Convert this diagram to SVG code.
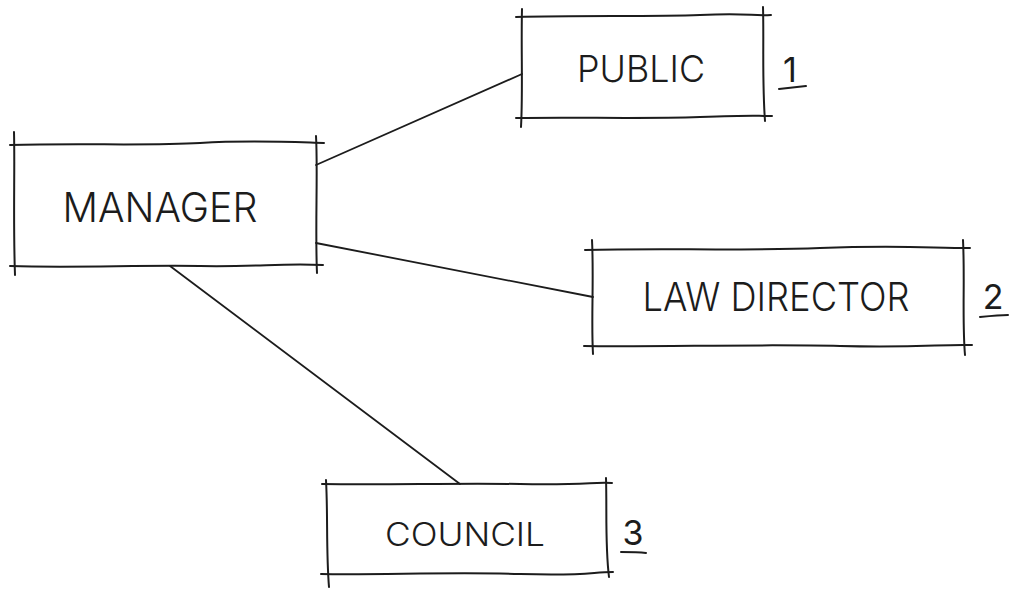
<svg xmlns="http://www.w3.org/2000/svg" width="1013" height="593" viewBox="0 0 1013 593">
  <style>
    .edge { fill: none; stroke: #1c1c1c; stroke-width: 2; stroke-linecap: round; stroke-linejoin: round; }
    .link { fill: none; stroke: #1c1c1c; stroke-width: 1.8; stroke-linecap: round; }
    .label { font-family: Inter, "Liberation Sans", sans-serif; font-weight: 300; fill: #1c1c1c; text-anchor: middle; }
    .num { font-family: Inter, "Liberation Sans", sans-serif; font-weight: 400; fill: #1c1c1c; text-anchor: middle; }
  </style>
  <rect width="1013" height="593" fill="#ffffff"/>

  <!-- connectors -->
  <g id="connectors">
    <path class="link" d="M316,165 L522,74"/>
    <path class="link" d="M316,243 L593,297"/>
    <path class="link" d="M170,266 L460,484"/>
  </g>

  <!-- manager box -->
  <g id="manager">
    <path class="edge" d="M10,145 C80,143 150,146 200,143 S290,142 324,143"/>
    <path class="edge" d="M10,266 C70,268 140,265 200,266 S280,263 323,265"/>
    <path class="edge" d="M14,132 C15,170 13,220 15,275"/>
    <path class="edge" d="M316,136 C318,170 315,230 317,273"/>
    <text class="label" x="160" y="222" font-size="41" textLength="195" lengthAdjust="spacingAndGlyphs">MANAGER</text>
  </g>

  <!-- public box -->
  <g id="public">
    <path class="edge" d="M516,17 C580,15 650,17 700,15 S750,16 771,15"/>
    <path class="edge" d="M516,118 C580,117 640,119 700,117 S750,116 772,116"/>
    <path class="edge" d="M522,9 C521,50 523,90 521,127"/>
    <path class="edge" d="M763,7 C764,40 762,80 765,121"/>
    <text class="label" x="641" y="82" font-size="37" textLength="128" lengthAdjust="spacingAndGlyphs">PUBLIC</text>
    <text class="num" x="790" y="82" font-size="34">1</text>
    <path class="edge" d="M779,89 C788,88 797,87 806,86"/>
  </g>

  <!-- law director box -->
  <g id="law-director">
    <path class="edge" d="M585,250 C660,248 740,251 820,248 S930,248 970,248"/>
    <path class="edge" d="M584,346 C660,347 760,344 840,346 S940,344 972,345"/>
    <path class="edge" d="M592,240 C594,280 591,320 593,354"/>
    <path class="edge" d="M963,240 C965,280 962,320 965,355"/>
    <text class="label" x="776" y="311" font-size="39" textLength="267" lengthAdjust="spacingAndGlyphs">LAW DIRECTOR</text>
    <text class="num" x="993" y="309" font-size="34">2</text>
    <path class="edge" d="M980,317 C990,316 1000,315 1008,315"/>
  </g>

  <!-- council box -->
  <g id="council">
    <path class="edge" d="M322,484 C390,485 450,483 520,484 S590,482 612,483"/>
    <path class="edge" d="M321,574 C380,575 450,572 520,574 S590,572 613,572"/>
    <path class="edge" d="M326,480 C328,515 326,550 329,587"/>
    <path class="edge" d="M606,478 C607,510 605,545 609,577"/>
    <text class="label" x="465" y="546" font-size="32" textLength="160" lengthAdjust="spacingAndGlyphs">COUNCIL</text>
    <text class="num" x="633" y="545" font-size="34">3</text>
    <path class="edge" d="M621,552 C630,552 638,552 646,553"/>
  </g>
</svg>
